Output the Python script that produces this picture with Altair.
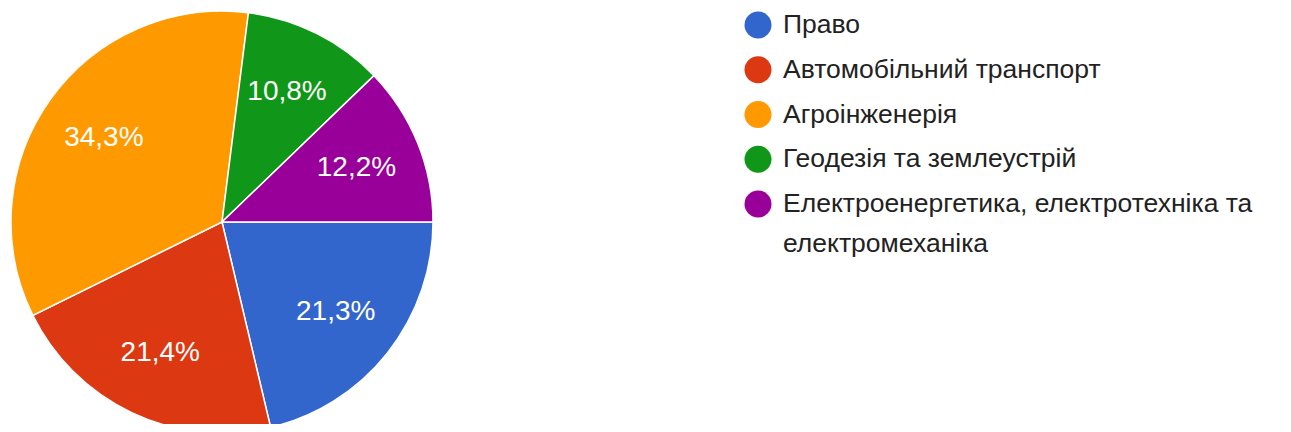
import math
import altair as alt
import pandas as pd

categories = [
    "Право",
    "Автомобільний транспорт",
    "Агроінженерія",
    "Геодезія та землеустрій",
    "Електроенергетика, електротехніка та електромеханіка",
]
legend_labels = [
    "Право",
    "Автомобільний транспорт",
    "Агроінженерія",
    "Геодезія та землеустрій",
    "Електроенергетика, електротехніка та\nелектромеханіка",
]
values = [21.3, 21.4, 34.3, 10.8, 12.2]
colors = ["#3366cc", "#dc3912", "#ff9900", "#109618", "#990099"]

df = pd.DataFrame({
    "cat": categories,
    "leg": legend_labels,
    "multi": ["\n" in s for s in legend_labels],
    "val": values,
    "idx": list(range(len(categories))),
    "lbl": [f"{v:.1f}%".replace(".", ",") for v in values],
})

FONT = "Liberation Sans, Arial, sans-serif"
theta_scale = alt.Scale(range=[math.pi / 2, math.pi / 2 + 2 * math.pi])
color_scale = alt.Scale(domain=categories, range=colors)

base = alt.Chart(df).encode(
    theta=alt.Theta("val:Q", stack=True, scale=theta_scale),
    order=alt.Order("idx:Q"),
    x=alt.value(214),
    y=alt.value(214),
)

arcs = base.mark_arc(outerRadius=211, stroke="white", strokeWidth=1.5).encode(
    color=alt.Color("cat:N", scale=color_scale, legend=None)
)

texts = base.mark_text(
    radius=145, fontSize=28, font=FONT, color="white"
).encode(text="lbl:N")

leg_y = alt.Y("cat:N", sort=categories, axis=None,
              scale=alt.Scale(domain=categories, range=[17, 196], padding=0))

leg_sym = alt.Chart(df).mark_circle(size=729, opacity=1).encode(
    x=alt.value(750),
    y=leg_y,
    color=alt.Color("cat:N", scale=color_scale, legend=None),
)

txt_enc = dict(x=alt.value(775), y=leg_y, text="leg:N")

leg_txt_single = alt.Chart(df).transform_filter("!datum.multi").mark_text(
    align="left", baseline="middle", font=FONT, fontSize=26.5, color="#222222",
).encode(**txt_enc)

leg_txt_multi = alt.Chart(df).transform_filter("datum.multi").mark_text(
    align="left", baseline="middle", font=FONT, fontSize=26.5,
    color="#222222", lineBreak="\n", lineHeight=40,
).encode(**txt_enc)

chart = (
    alt.layer(arcs, texts, leg_sym, leg_txt_single, leg_txt_multi)
    .properties(width=1270, height=416, autosize=alt.AutoSizeParams(type="none"), padding=0)
    .configure_view(stroke=None)
)

chart.save("out.html", embed_options={"renderer": "svg", "actions": False})
